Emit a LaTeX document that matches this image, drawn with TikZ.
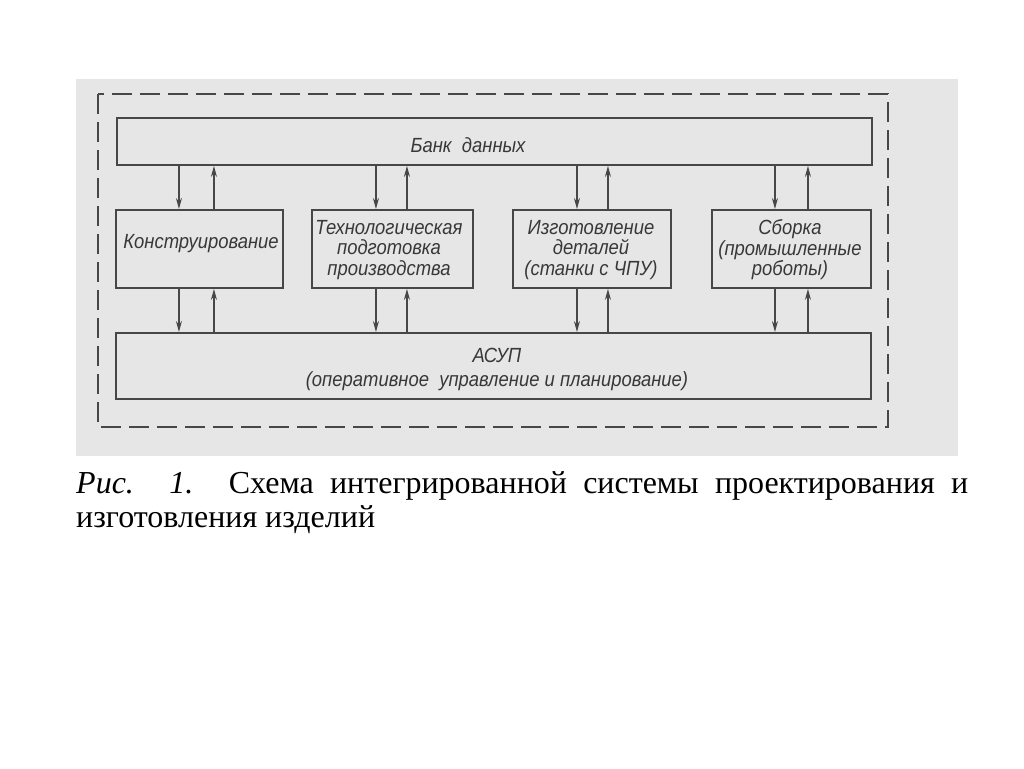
\documentclass[tikz,border=0pt]{standalone}
\usepackage{fontspec}
\setmainfont{Liberation Serif}
\newfontfamily\draftfont[FakeStretch=0.9]{Liberation Sans}
\usetikzlibrary{arrows.meta}
\definecolor{scanbg}{HTML}{E6E6E6}
\definecolor{ink}{HTML}{474747}
\definecolor{inktext}{HTML}{383838}
\tikzset{
  blk/.style={draw=ink, line width=1.9pt, inner sep=0pt, anchor=north west},
  lbl/.style={text=inktext, font=\draftfont\itshape\fontsize{20.5}{20.5}\selectfont, align=center, inner sep=0pt},
  arr/.style={draw=ink, line width=1.4pt, -{Stealth[length=11pt,width=6pt]}},
  frame/.style={draw=ink, line width=1.4pt, dash pattern=on 20pt off 8pt},
}
\begin{document}
\begin{tikzpicture}[x=1pt,y=-1pt]
\useasboundingbox (0,0) rectangle (1024,768);
\fill[white] (0,0) rectangle (1024,768);
\fill[scanbg] (76,79) rectangle (958,456);
% dashed outer frame
\draw[frame] (98,94) rectangle (888,427);
% boxes
\node[blk, minimum width=755pt, minimum height=47pt] (bank) at (116,117) {};
\node[blk, minimum width=167pt, minimum height=78pt] (k) at (115,209) {};
\node[blk, minimum width=161pt, minimum height=78pt] (t) at (311,209) {};
\node[blk, minimum width=158pt, minimum height=78pt] (i) at (512,209) {};
\node[blk, minimum width=159pt, minimum height=78pt] (s) at (711,209) {};
\node[blk, minimum width=755pt, minimum height=66pt] (asup) at (115,332) {};
% labels
\node[lbl] (bankl) at (468,145) {Банк\ \ данных};
\node[lbl] (kl) at (201,244) {Конструирование};
\node[lbl] (tl) at (389,250) {Технологическая\\подготовка\\производства};
\node[lbl] (il) at (591,250) {Изготовление\\деталей\\(станки с ЧПУ)};
\node[lbl] (sl) at (790,250) {Сборка\\(промышленные\\роботы)};
\node[lbl] (al1) at (497,355) {АСУП};
\node[lbl] (al2) at (497,381) {(оперативное\ \ управление и планирование)};
% arrows bank <-> boxes, boxes <-> asup
\foreach \b/\dn/\up in {k/-20.5/14.5, t/-16.5/14.5, i/-15/16, s/-16.5/16.5}{
  \draw[arr] ([xshift=\dn pt]\b.north |- bank.south) -- ([xshift=\dn pt]\b.north);
  \draw[arr] ([xshift=\up pt]\b.north) -- ([xshift=\up pt]\b.north |- bank.south);
  \draw[arr] ([xshift=\dn pt]\b.south) -- ([xshift=\dn pt]\b.south |- asup.north);
  \draw[arr] ([xshift=\up pt]\b.south |- asup.north) -- ([xshift=\up pt]\b.south);
}
% caption
\node[anchor=base west, text width=892pt, align=justify, inner sep=0pt,
      font=\fontsize{32}{34}\selectfont] (cap) at (76,493)
  {\textit{Рис. 1.} Схема интегрированной системы проектирования и\linebreak изготовления изделий};
\end{tikzpicture}
\end{document}
